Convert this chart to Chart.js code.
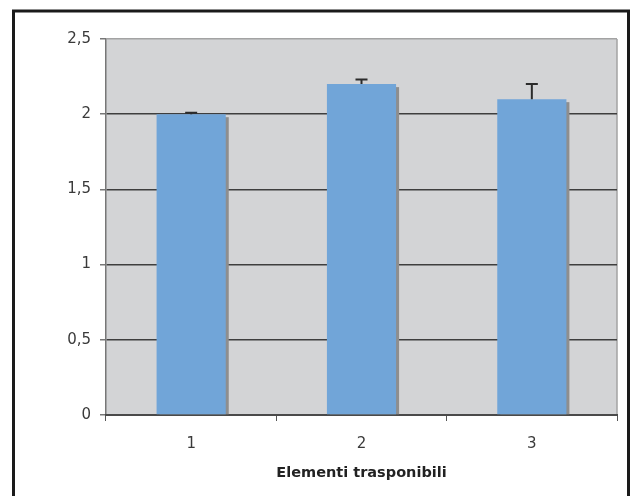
<!DOCTYPE html>
<html>
<head>
<meta charset="utf-8">
<script src="https://cdn.jsdelivr.net/npm/chart.js@4/dist/chart.umd.min.js"></script>
<style>
  html, body { margin: 0; padding: 0; background: #fff; }
  #wrap { width: 632px; height: 496px; }
</style>
</head>
<body>
<div id="wrap"><canvas id="chart" width="632" height="496"></canvas></div>
<script>
// dati
const categories = ["1", "2", "3"];
const values = [2.0, 2.2, 2.1];
const errors = [0.01, 0.03, 0.1];
const yTicks = [0, 0.5, 1, 1.5, 2, 2.5];
const xTitle = "Elementi trasponibili";

// sfondo, area grafico e cornice nera
const frame = {
  id: "frame",
  beforeDraw(chart) {
    const { ctx, chartArea: a } = chart;
    ctx.save();
    ctx.fillStyle = "#fff";
    ctx.fillRect(0, 0, chart.width, chart.height);
    ctx.fillStyle = "#d3d4d6";
    ctx.fillRect(a.left, a.top, a.right - a.left, a.bottom - a.top);
    ctx.strokeStyle = "#a3a3a3";
    ctx.lineWidth = 1.5;
    ctx.beginPath();
    ctx.moveTo(a.right, a.top);
    ctx.lineTo(a.right, a.bottom);
    ctx.stroke();
    ctx.restore();
  },
  afterDraw(chart) {
    const ctx = chart.ctx;
    ctx.save();
    ctx.strokeStyle = "#1a1a1a";
    ctx.lineWidth = 3;
    ctx.strokeRect(13.5, 11, 615, 500);
    ctx.restore();
  }
};

// ombra grigia delle barre
const barShadow = {
  id: "barShadow",
  beforeDatasetsDraw(chart) {
    const ctx = chart.ctx;
    ctx.save();
    ctx.fillStyle = "#8e8e8e";
    chart.getDatasetMeta(0).data.forEach(bar => {
      const w = bar.width;
      ctx.fillRect(bar.x - w / 2 + 3, bar.y + 3, w, bar.base - bar.y - 3);
    });
    ctx.restore();
  }
};

// barre di errore (solo verso l'alto)
const errorBars = {
  id: "errorBars",
  afterDatasetsDraw(chart) {
    const ctx = chart.ctx;
    const y = chart.scales.y;
    ctx.save();
    ctx.strokeStyle = "#2b2b2b";
    ctx.lineWidth = 2;
    chart.getDatasetMeta(0).data.forEach((bar, i) => {
      const y0 = y.getPixelForValue(values[i]);
      const y1 = y.getPixelForValue(values[i] + errors[i]);
      ctx.beginPath();
      ctx.moveTo(bar.x, y0);
      ctx.lineTo(bar.x, y1);
      ctx.moveTo(bar.x - 6, y1);
      ctx.lineTo(bar.x + 6, y1);
      ctx.stroke();
    });
    ctx.restore();
  }
};

new Chart(document.getElementById("chart"), {
  type: "bar",
  data: {
    labels: categories,
    datasets: [{
      data: values,
      backgroundColor: "#71a5d8",
      borderWidth: 0,
      barPercentage: 0.406,
      categoryPercentage: 1
    }]
  },
  options: {
    responsive: false,
    animation: false,
    layout: { padding: { left: 0, right: 15, top: 39, bottom: 0 } },
    plugins: { legend: { display: false }, tooltip: { enabled: false } },
    scales: {
      y: {
        min: 0,
        max: 2.5,
        afterFit: s => { s.width = 106; },
        afterBuildTicks: s => { s.ticks = yTicks.map(v => ({ value: v })); },
        ticks: {
          padding: 9,
          color: "#3a3a3a",
          font: { family: "DejaVu Sans", size: 15 },
          callback: v => String(v).replace(".", ",")
        },
        grid: {
          tickLength: 6,
          tickColor: "#777",
          lineWidth: 1.5,
          color: c => c.tick.value === 2.5 ? "#a3a3a3" : (c.tick.value === 0 ? "rgba(0,0,0,0)" : "#3e3e3e")
        },
        border: { color: "#777", width: 1.5 }
      },
      x: {
        afterFit: s => { s.height = 81; },
        ticks: {
          padding: 14,
          color: "#3a3a3a",
          font: { family: "DejaVu Sans", size: 15 }
        },
        grid: {
          offset: true,
          drawOnChartArea: false,
          tickLength: 6,
          tickColor: "#555"
        },
        border: { color: "#4a4a4a", width: 2 },
        title: {
          display: true,
          text: xTitle,
          color: "#222",
          font: { family: "DejaVu Sans", size: 14.5, weight: "bold" },
          padding: { top: 0, bottom: 14 }
        }
      }
    }
  },
  plugins: [frame, barShadow, errorBars]
});
</script>
</body>
</html>
